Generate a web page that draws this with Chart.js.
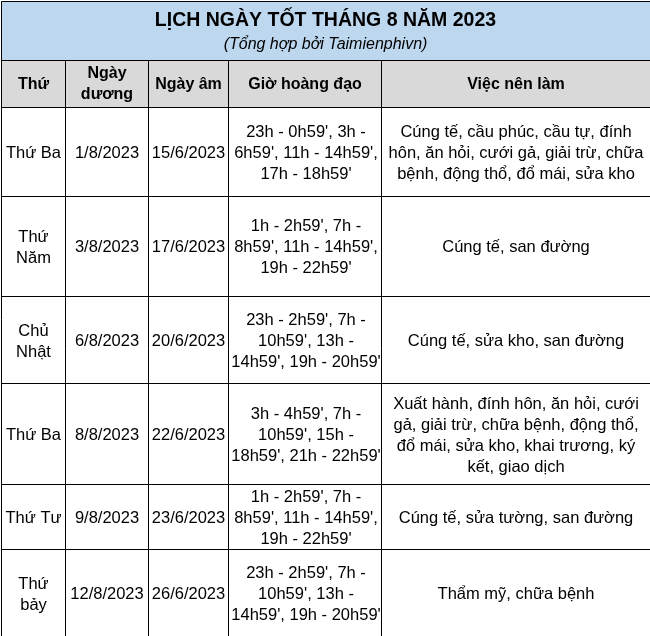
<!DOCTYPE html>
<html><head><meta charset="utf-8">
<script src="https://cdn.jsdelivr.net/npm/chart.js@4"></script>
<style>html,body{margin:0;background:#fff}#wrap{width:650px;height:636px}</style>
</head><body><div id="wrap"><canvas id="c"></canvas></div>
<script>
// dữ liệu bảng
const title = 'LỊCH NGÀY TỐT THÁNG 8 NĂM 2023';
const subtitle = '(Tổng hợp bởi Taimienphivn)';
const headers = [['Thứ'], ['Ngày', 'dương'], ['Ngày âm'], ['Giờ hoàng đạo'], ['Việc nên làm']];
const thu = [['Thứ Ba'], ['Thứ', 'Năm'], ['Chủ', 'Nhật'], ['Thứ Ba'], ['Thứ Tư'], ['Thứ', 'bảy']];
const ngayDuong = ['1/8/2023', '3/8/2023', '6/8/2023', '8/8/2023', '9/8/2023', '12/8/2023'];
const ngayAm = ['15/6/2023', '17/6/2023', '20/6/2023', '22/6/2023', '23/6/2023', '26/6/2023'];
const gioHoangDao = [
  ['23h - 0h59\', 3h -', '6h59\', 11h - 14h59\',', '17h - 18h59\''],
  ['1h - 2h59\', 7h -', '8h59\', 11h - 14h59\',', '19h - 22h59\''],
  ['23h - 2h59\', 7h -', '10h59\', 13h -', '14h59\', 19h - 20h59\''],
  ['3h - 4h59\', 7h -', '10h59\', 15h -', '18h59\', 21h - 22h59\''],
  ['1h - 2h59\', 7h -', '8h59\', 11h - 14h59\',', '19h - 22h59\''],
  ['23h - 2h59\', 7h -', '10h59\', 13h -', '14h59\', 19h - 20h59\''],
];
const viecNenLam = [
  ['Cúng tế, cầu phúc, cầu tự, đính', 'hôn, ăn hỏi, cưới gả, giải trừ, chữa', 'bệnh, động thổ, đổ mái, sửa kho'],
  ['Cúng tế, san đường'],
  ['Cúng tế, sửa kho, san đường'],
  ['Xuất hành, đính hôn, ăn hỏi, cưới', 'gả, giải trừ, chữa bệnh, động thổ,', 'đổ mái, sửa kho, khai trương, ký', 'kết, giao dịch'],
  ['Cúng tế, sửa tường, san đường'],
  ['Thẩm mỹ, chữa bệnh'],
];

// bố cục (đơn vị trục = pixel)
const colEdges = [0.5, 65, 148, 228, 381, 649.5];
const rowEdges = [107, 196, 296, 383, 484, 549, 640];

const tablePlugin = {
  id: 'table',
  afterDraw(chart) {
    const { ctx, scales: { x, y } } = chart;
    const px = v => Math.round(x.getPixelForValue(v)) + 0.5;
    const py = v => Math.round(y.getPixelForValue(v)) + 0.5;
    const lh = 21;
    const lines = (arr, cx, cy) => {
      const top = cy - (arr.length - 1) * lh / 2;
      arr.forEach((t, i) => ctx.fillText(t, cx, top + i * lh));
    };
    ctx.save();
    ctx.fillStyle = '#bdd7ee';
    ctx.fillRect(px(0.5), py(0.5), px(649.5) - px(0.5), py(60) - py(0.5));
    ctx.fillStyle = '#d9d9d9';
    ctx.fillRect(px(0.5), py(60), px(649.5) - px(0.5), py(107) - py(60));
    ctx.strokeStyle = '#000'; ctx.lineWidth = 1;
    ctx.beginPath();
    [0.5, 60, ...rowEdges].forEach(v => { ctx.moveTo(px(0.5), py(v)); ctx.lineTo(px(649.5), py(v)); });
    ctx.moveTo(px(0.5), py(0.5)); ctx.lineTo(px(0.5), py(640));
    ctx.moveTo(px(649.5), py(0.5)); ctx.lineTo(px(649.5), py(640));
    colEdges.slice(1, -1).forEach(v => { ctx.moveTo(px(v), py(60)); ctx.lineTo(px(v), py(640)); });
    ctx.stroke();

    ctx.textAlign = 'center'; ctx.textBaseline = 'middle'; ctx.fillStyle = '#000';
    ctx.font = 'bold 19.5px "Liberation Sans", Arial, sans-serif';
    ctx.fillText(title, px(325), py(20));
    ctx.font = 'italic 16px "Liberation Sans", Arial, sans-serif';
    ctx.fillText(subtitle, px(325), py(44));
    ctx.font = 'bold 16px "Liberation Sans", Arial, sans-serif';
    headers.forEach((h, i) => lines(h, (px(colEdges[i]) + px(colEdges[i + 1])) / 2, py(84)));
    ctx.font = '16.5px "Liberation Sans", Arial, sans-serif';
    const cols = [thu, ngayDuong.map(s => [s]), ngayAm.map(s => [s]), gioHoangDao, viecNenLam];
    cols.forEach((col, c) => {
      const cx = (px(colEdges[c]) + px(colEdges[c + 1])) / 2;
      col.forEach((cell, r) => {
        const bottom = r === 5 ? 636 : rowEdges[r + 1];
        lines(cell, cx + (c === 3 ? 1 : 0), py((rowEdges[r] + bottom) / 2) + 1);
      });
    });
    ctx.restore();
  },
};

new Chart(document.getElementById('c'), {
  type: 'scatter',
  data: { datasets: [{ data: [] }] },
  plugins: [tablePlugin],
  options: {
    responsive: true, maintainAspectRatio: false, animation: false,
    layout: { padding: 0 },
    plugins: { legend: { display: false }, tooltip: { enabled: false } },
    scales: {
      x: { type: 'linear', min: 0, max: 650, display: false },
      y: { type: 'linear', min: 0, max: 636, reverse: true, display: false },
    },
  },
});
</script></body></html>
